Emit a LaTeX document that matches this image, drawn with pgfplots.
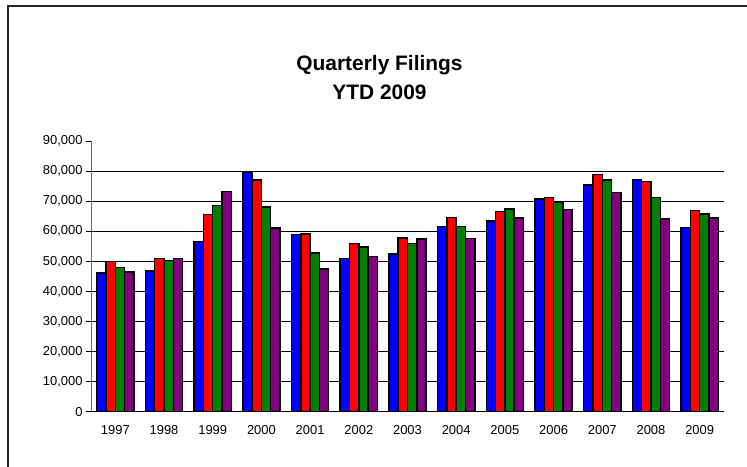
\documentclass[border=0pt]{standalone}
\usepackage{pgfplots}
\pgfplotsset{compat=1.18}
\usepackage{pgfplotstable}
\usepackage{fontspec}
\setmainfont{Liberation Sans}
\definecolor{qblue}{RGB}{0,0,255}
\definecolor{qred}{RGB}{255,0,0}
\definecolor{qgreen}{RGB}{0,128,0}
\definecolor{qpurple}{RGB}{128,0,128}
\pgfplotstableread{
x q1 q2 q3 q4
0 46100 49900 47900 46500
1 46800 51000 50200 51000
2 56600 65500 68500 73200
3 79600 77000 68000 61100
4 58900 59000 52700 47500
5 51000 56000 54700 51600
6 52400 57800 55900 57400
7 61600 64500 61600 57600
8 63400 66600 67400 64400
9 70800 71200 69500 67200
10 75400 78800 77000 72900
11 77200 76600 71200 64000
12 61200 66900 65800 64400
}\data
\begin{document}
\begin{tikzpicture}
\useasboundingbox (0,0) rectangle (747bp,467bp);
\draw[black!85, line width=1.2bp] (8bp,-5bp) -- (8bp,461bp) -- (760bp,461bp);
\node[font=\fontsize{21}{24}\selectfont\bfseries] at (379.5bp,402bp) {Quarterly Filings};
\node[font=\fontsize{21}{24}\selectfont\bfseries] at (379.5bp,375bp) {YTD 2009};
\begin{axis}[
  at={(91bp,55.3bp)}, anchor=south west,
  scale only axis, width=633bp, height=270.7bp,
  xmin=-0.5, xmax=12.5, ymin=0, ymax=90000,
  axis x line=bottom, axis y line=left,
  axis line style={line width=0.8bp},
  x axis line style={-, black},
  y axis line style={-, black!60},
  ybar=0pt, bar width=0.191,
  xtick={0,...,12},
  xticklabels={1997,1998,1999,2000,2001,2002,2003,2004,2005,2006,2007,2008,2009},
  x tick style={draw=none},
  extra x ticks={-0.5,0.5,1.5,2.5,3.5,4.5,5.5,6.5,7.5,8.5,9.5,10.5,11.5,12.5},
  extra x tick labels={},
  extra x tick style={tick style={draw=black, line width=0.8bp}, major tick length=4.5bp, tick align=outside},
  ytick={0,10000,...,90000},
  y tick style={draw=black, line width=0.8bp},
  major tick length=5bp, tick align=outside,
  extra y ticks={10000,20000,...,80000},
  extra y tick labels={},
  extra y tick style={grid=major, major tick length=0pt},
  grid style={black, line width=0.8bp},
  scaled y ticks=false,
  /pgf/number format/1000 sep={,},
  /pgf/number format/assume math mode=true,
  tick label style={font=\fontsize{13}{15}\selectfont},
  xticklabel style={yshift=-5bp},
  every axis plot/.append style={draw=black, line width=1.5bp},
]
\addplot[fill=qblue] table[x=x,y=q1]{\data};
\addplot[fill=qred] table[x=x,y=q2]{\data};
\addplot[fill=qgreen] table[x=x,y=q3]{\data};
\addplot[fill=qpurple] table[x=x,y=q4]{\data};
\end{axis}
\end{tikzpicture}
\end{document}
